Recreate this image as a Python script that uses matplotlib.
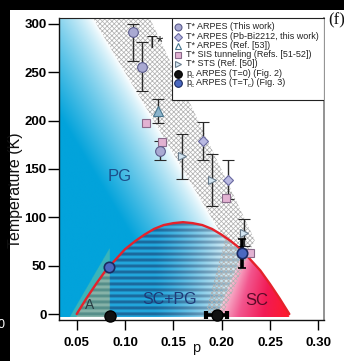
import numpy as np
import matplotlib
matplotlib.use("Agg")
import matplotlib.pyplot as plt
from matplotlib.patches import Polygon, Rectangle
from matplotlib.colors import to_rgb, LinearSegmentedColormap
from matplotlib.transforms import offset_copy

plt.rcParams["font.family"] = ["Liberation Sans", "DejaVu Sans"]
plt.rcParams["hatch.linewidth"] = 0.55
plt.rcParams["hatch.color"] = "#b2b2b2"

# ---------------- data ----------------
# superconducting dome Tc(p)
dome_p = [0.05, 0.06, 0.07, 0.08, 0.09, 0.10, 0.11, 0.12, 0.13, 0.14, 0.15, 0.16,
          0.17, 0.18, 0.19, 0.20, 0.21, 0.22, 0.23, 0.24, 0.25, 0.26, 0.27]
dome_T = [0, 16, 31, 45, 56, 67, 75, 82, 88, 92, 94, 95,
          94, 92, 88, 82, 75, 67, 56, 45, 31, 16, 0]

# T* ARPES (this work)
arpes_p = [0.108, 0.118, 0.136]
arpes_T = [292, 256, 169]
arpes_lo = [30, 25, 10]
arpes_hi = [8, 25, 10]

# T* ARPES (Pb-Bi2212)
pbbi_p = [0.181, 0.207]
pbbi_T = [179, 139]
pbbi_err = [20, 20]

# T* ARPES (Ref. 53)
ref53_p = [0.134]
ref53_T = [210]
ref53_err = [12]

# T* SIS tunneling
sis_p = [0.122, 0.138, 0.204, 0.229]
sis_T = [198, 178, 120, 63]

# T* STS
sts_p = [0.159, 0.190, 0.2235]
sts_T = [163, 139, 84]
sts_err = [23, 27, 14]

# p_c ARPES (T=0)
pc0_p = [0.084, 0.1957]
pc0_T = [-2, -1]
pc0_xlo = [0.0, 0.0117]
pc0_xhi = [0.0, 0.0103]

# p_c ARPES (T=Tc)
pctc_p = [0.083, 0.2215]
pctc_T = [49, 63]
pctc_err = [0, 15]

# T* crossover band (left edge / right edge)
band_left_p = [0.0666, 0.2032, 0.1825]
band_right_p = [0.1256, 0.2343, 0.2001]
band_T = [306.2, 76.6, -3]

# region "A" wedge
wedge_p = [0.0428, 0.084, 0.084]
wedge_T = [-3, -3, 68]

xticks = [0.05, 0.10, 0.15, 0.20, 0.25, 0.30]
yticks = [0, 50, 100, 150, 200, 250, 300]

# ---------------- figure ----------------
W, H = 344, 361
fig = plt.figure(figsize=(W / 100, H / 100), dpi=100, facecolor="black")
fig.patches.append(Rectangle((10 / W, 0), 1, 1 - 10 / H, transform=fig.transFigure,
                             fc="white", ec="none", zorder=-5))

ax = fig.add_axes([59 / W, 1 - 320 / H, 265 / W, 302 / H])
xlo, xhi = 0.0317, 0.3059
ylo, yhi = -6.2, 306.2
ax.set_xlim(xlo, xhi)
ax.set_ylim(ylo, yhi)

# ---------------- background phase map ----------------
nx, ny = 600, 660
t_bot = -3.0
pp = np.linspace(xlo, xhi, nx)
tt = np.linspace(t_bot, yhi, ny)
P, T = np.meshgrid(pp, tt)
disp = ax.transData.transform(np.column_stack([P.ravel(), T.ravel()]))
QX = disp[:, 0].reshape(P.shape)
QY = disp[:, 1].reshape(P.shape)
A = ax.transData.transform((band_left_p[0], band_T[0]))
B = ax.transData.transform((band_left_p[1], band_T[1]))
dx, dy = B - A
cross = dx * (QY - A[1]) - dy * (QX - A[0])
dist = -cross / np.hypot(dx, dy)
f = np.clip(dist / 78.0, 0, 1) ** 0.8

white = np.array([1.0, 1.0, 1.0])
cyan = np.array(to_rgb("#02a3db"))
img = white[None, None, :] * (1 - f[..., None]) + cyan[None, None, :] * f[..., None]

# green wedge (region A)
g_left = wedge_p[0] + (T - wedge_T[0]) * (wedge_p[2] - wedge_p[0]) / (wedge_T[2] - wedge_T[0])
in_wedge = (P >= g_left) & (P <= wedge_p[1]) & (T <= wedge_T[2])
green = np.array(to_rgb("#8fd08a"))
img[in_wedge] = img[in_wedge] * 0.6 + green * 0.4

# dome interior
Tc = np.interp(P, dome_p, dome_T)
inside = (T <= Tc) & (P >= dome_p[0]) & (P <= dome_p[-1])
pcb = pc0_p[1] + (T - pc0_T[1]) * (pctc_p[1] - pc0_p[1]) / (pctc_T[1] - pc0_T[1])

s = 0.5 + 0.5 * np.cos(2 * np.pi * T / 6.2)
stripe = np.clip((s - 0.5) * 3 + 0.5, 0, 1)[..., None]  # 1 -> dark stripe


def mix(c1, c2, w):
    return np.array(to_rgb(c1)) * (1 - w) + np.array(to_rgb(c2)) * w


regA = inside & (P < wedge_p[1])
dA = np.array(to_rgb("#568f8a"))
lA = np.array(to_rgb("#86b3a9"))
img[regA] = (dA * stripe[regA] + lA * (1 - stripe[regA]))

regS = inside & (P >= wedge_p[1]) & (P < pcb)
w = np.clip((P - 0.13) / 0.075, 0, 1)[..., None] ** 1.3
dark = mix("#1a6a9e", "#96b6c8", w)
light = mix("#22a6dc", "#d4eaf3", w)
img[regS] = (dark * stripe + light * (1 - stripe))[regS]

regC = inside & (P >= pcb)
tc = np.clip((P - pcb) / (dome_p[-1] - pcb), 0, 1)
sc_cmap = LinearSegmentedColormap.from_list(
    "sc", [(0, "#f8c8da"), (0.3, "#f2568e"), (0.65, "#f11a55"), (1, "#ff1a2a")])
img[regC] = sc_cmap(tc)[..., :3][regC]

ax.imshow(img, origin="lower", extent=(xlo, xhi, t_bot, yhi), aspect="auto",
          interpolation="bilinear", zorder=0)

# T* crossover band (cross-hatched)
band_xy = list(zip(band_left_p, band_T)) + list(zip(band_right_p[::-1], band_T[::-1]))
ax.add_patch(Polygon(band_xy, closed=True, fc="none", ec="#b2b2b2", lw=0,
                     hatch="xxxxxxx", zorder=1))

# dome line
ax.plot(dome_p, dome_T, color="#e5222b", lw=1.7, zorder=2, solid_capstyle="round")

# ---------------- data points ----------------
eb = dict(ecolor="#2a2a2a", elinewidth=1, capsize=4, capthick=1, linestyle="none")
ax.errorbar(arpes_p, arpes_T, yerr=[arpes_lo, arpes_hi], fmt="o", ms=7,
            mfc="#a9a9d2", mec="#5c5c8c", mew=0.8, zorder=4, **eb)
ax.errorbar(pbbi_p, pbbi_T, yerr=pbbi_err, fmt="D", ms=5,
            mfc="#b9b9e2", mec="#6a6aa0", mew=0.8, zorder=4, **eb)
ax.errorbar(ref53_p, ref53_T, yerr=ref53_err, fmt="^", ms=6.5,
            mfc="#8cb4cc", mec="#4a7890", mew=0.8, zorder=4, **eb)
ax.plot(sis_p, sis_T, "s", ms=6, mfc="#e2b2d2", mec="#8a6a8a", mew=0.8, zorder=4)
ax.errorbar(sts_p, sts_T, yerr=sts_err, fmt=">", ms=6,
            mfc="#d4e6f2", mec="#6a7c8c", mew=0.8, zorder=4, **eb)
ax.errorbar(pc0_p, pc0_T, xerr=[pc0_xlo, pc0_xhi], fmt="o", ms=8, mfc="#111111",
            mec="#000000", ecolor="#000000", elinewidth=2.6, capsize=3, capthick=3,
            zorder=5, clip_on=False)
ax.errorbar(pctc_p, pctc_T, yerr=pctc_err, fmt="o", ms=7.5, mfc="#4a68c0",
            mec="#1a2a60", mew=1.2, ecolor="#000000", elinewidth=2.6, capsize=3,
            capthick=3, zorder=5)

# ---------------- labels in the plot ----------------
narrow = ["Liberation Sans Narrow", "Liberation Sans", "DejaVu Sans"]
ax.text(0.1315, 280, "T*", fontsize=12.5, color="#222222", ha="center", va="center", zorder=6)
ax.text(0.0945, 142, "PG", fontsize=12, family=narrow, color="#1c4f8a",
        ha="center", va="center", zorder=6)
ax.text(0.1463, 14.5, "SC+PG", fontsize=11.5, family=narrow, color="#1e3a78",
        ha="center", va="center", zorder=6)
ax.text(0.2363, 13.5, "SC", fontsize=12, family=narrow, color="#5a0a28",
        ha="center", va="center", zorder=6)
ax.text(0.0635, 9.5, "A", fontsize=10, family=narrow, color="#2a3e44",
        ha="center", va="center", zorder=6)

# ---------------- legend ----------------
lx0 = (172 - 59) / 265
ly0 = (320 - 100) / 302
ax.add_patch(Rectangle((lx0, ly0), 1 - lx0, 1 - ly0, transform=ax.transAxes,
                       fc="white", ec="#222222", lw=0.8, zorder=7))

# each label is a list of (text, size, vertical shift in points)
legend_rows = [
    ("o", 5, "#a9a9d2", "#5c5c8c", [("T* ARPES (This work)", 6.5, 0)], 27),
    ("D", 3.8, "#b9b9e2", "#6a6aa0", [("T* ARPES (Pb-Bi2212, this work)", 6.5, 0)], 36.5),
    ("^", 5, "white", "#4a7890", [("T* ARPES (Ref. [53])", 6.5, 0)], 45.5),
    ("s", 4.5, "#e2b2d2", "#8a6a8a", [("T* SIS tunneling (Refs. [51-52])", 6.5, 0)], 54.7),
    (">", 4.5, "#d4e6f2", "#6a7c8c", [("T* STS (Ref. [50])", 6.5, 0)], 63.7),
    ("o", 5.5, "#111111", "#000000",
     [("p", 6.5, 0), ("c", 4.3, -1.3), (" ARPES (T=0) (Fig. 2)", 6.5, 0)], 73.7),
    ("o", 5.5, "#4a68c0", "#1a2a60",
     [("p", 6.5, 0), ("c", 4.3, -1.3), (" ARPES (T=T", 6.5, 0), ("c", 4.3, -1.3),
      (") (Fig. 3)", 6.5, 0)], 83),
]
mx = (178 - 59) / 265
tx = (186 - 59) / 265
renderer = fig.canvas.get_renderer()
for mk, ms, fc, ec, pieces, ypx in legend_rows:
    yy = (320 - ypx) / 302
    ax.plot([mx], [yy], mk, ms=ms, mfc=fc, mec=ec, mew=0.8, transform=ax.transAxes,
            zorder=8, clip_on=False)
    xoff = 0.0
    for txt, size, shift in pieces:
        tr = offset_copy(ax.transAxes, fig=fig, x=xoff, y=shift, units="points")
        t = ax.text(tx, yy - 2.3 / 302, txt, fontsize=size, color="#222222", transform=tr,
                    ha="left", va="baseline", zorder=8)
        bb = t.get_window_extent(renderer)
        xoff += bb.width * 72 / fig.dpi

# ---------------- axes styling ----------------
ax.set_xticks(xticks)
ax.set_xticklabels([f"{v:.2f}" for v in xticks], fontweight="bold")
ax.set_yticks(yticks)
ax.set_yticklabels([str(v) for v in yticks], fontweight="bold")
ax.tick_params(axis="y", direction="out", length=8, width=1, labelsize=9.5, pad=1)
ax.tick_params(axis="x", direction="out", length=7, width=1, labelsize=9.5, pad=5)
for side in ("left", "bottom"):
    ax.spines[side].set_linewidth(1.0)
    ax.spines[side].set_color("#111111")
ax.spines["top"].set_linewidth(0.8)
ax.spines["top"].set_color("#222222")
ax.spines["right"].set_linewidth(1.3)
ax.spines["right"].set_color("#8a8a8a")

fig.text(16 / W, 1 - 190 / H, "Temperature (K)", rotation=90, fontsize=11.5,
         ha="center", va="center", color="#111111")
fig.text(196 / W, 1 - 348 / H, "p", fontsize=10.5, ha="center", va="center", color="#111111")
fig.text(328 / W, 1 - 20 / H, "(f)", fontsize=12, family=["Liberation Serif", "DejaVu Serif"],
         ha="left", va="center", color="#111111")
fig.text(-3 / W, 1 - 325 / H, "0", fontsize=9, color="white", ha="left", va="center")

fig.savefig("out.png", dpi=100, facecolor=fig.get_facecolor())
